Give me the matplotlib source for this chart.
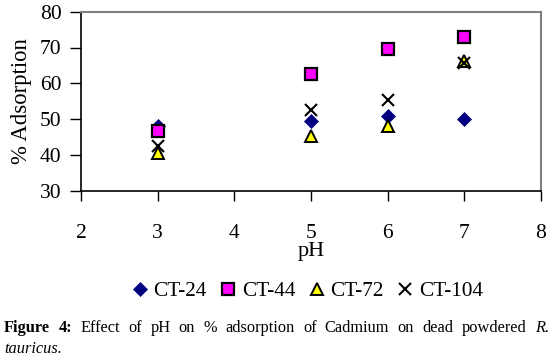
import matplotlib
matplotlib.use("Agg")
import matplotlib.pyplot as plt

ph = [3, 5, 6, 7]
ct24 = [48.0, 49.4, 51.0, 50.0]
ct44 = [46.6, 62.6, 69.6, 72.9]
ct72 = [40.5, 45.2, 48.0, 66.3]
ct104 = [42.4, 52.6, 55.4, 65.7]
series_names = ["CT-24", "CT-44", "CT-72", "CT-104"]
x_ticks = [2, 3, 4, 5, 6, 7, 8]
y_ticks = [30, 40, 50, 60, 70, 80]

plt.rcParams['font.family'] = ['Liberation Serif', 'DejaVu Serif']
W, H = 554, 363
fig = plt.figure(figsize=(W / 100, H / 100), dpi=100)
ax = fig.add_axes([81 / W, 1 - 190.7 / H, (541 - 81) / W, (190.7 - 11.7) / H])

styles = [
    dict(marker='D', color='#000080', markersize=7.5, markeredgecolor='#000080', markeredgewidth=0.5),
    dict(marker='s', color='#FF00FF', markersize=8.5, markeredgecolor='black', markeredgewidth=1.6),
    dict(marker='^', color='#FFFF00', markersize=9, markeredgecolor='black', markeredgewidth=1.4),
    dict(marker='x', color='black', markersize=9, markeredgewidth=1.5),
]
data = [ct24, ct44, ct72, ct104]
handles = []
for name, vals, st in zip(series_names, data, styles):
    h, = ax.plot(ph, vals, linestyle='none', label=name, **st)
    handles.append(h)

ax.set_xlim(2, 8)
ax.set_ylim(30, 80)
ax.set_xticks(x_ticks)
ax.set_yticks(y_ticks)
ax.tick_params(axis='x', direction='out', length=7, width=1, pad=17, labelsize=15.5)
ax.tick_params(axis='y', direction='out', length=8, width=1, pad=6, labelsize=15.5)
for s in ['top', 'right']:
    ax.spines[s].set_color('#808080')
    ax.spines[s].set_linewidth(1.5)
for s in ['left', 'bottom']:
    ax.spines[s].set_color('black')
    ax.spines[s].set_linewidth(1.2)
ax.set_xlabel('pH', fontsize=16, labelpad=-1)
ax.set_ylabel('% Adsorption', fontsize=16.4, labelpad=5.5)

fig.legend(handles=handles, labels=series_names, loc='center', bbox_to_anchor=(307 / W, 1 - 291 / H),
           ncol=4, frameon=False, fontsize=15.3, handlelength=0.8, handletextpad=0.25,
           columnspacing=0.6, borderaxespad=0)

# Caption, justified first line
renderer = fig.canvas.get_renderer()
fs = 11.8
words = [("Figure", 'bold', 'normal'), ("4:", 'bold', 'normal'), ("Effect", 'normal', 'normal'),
         ("of", 'normal', 'normal'), ("pH", 'normal', 'normal'), ("on", 'normal', 'normal'),
         ("%", 'normal', 'normal'), ("adsorption", 'normal', 'normal'), ("of", 'normal', 'normal'),
         ("Cadmium", 'normal', 'normal'), ("on", 'normal', 'normal'), ("dead", 'normal', 'normal'),
         ("powdered", 'normal', 'normal'), ("R.", 'normal', 'italic')]
texts = []
for w, wt, st in words:
    t = fig.text(0, 1 - 332 / H, w, fontsize=fs, fontweight=wt, fontstyle=st, va='baseline', ha='left')
    texts.append(t)
widths = [t.get_window_extent(renderer).width for t in texts]
x0, x1 = 4, 549
gap = (x1 - x0 - sum(widths)) / (len(words) - 1)
x = x0
for t, w in zip(texts, widths):
    t.set_x(x / W)
    x += w + gap
fig.text(4 / W, 1 - 353 / H, "tauricus.", fontsize=fs, fontstyle='italic', va='baseline', ha='left')

fig.savefig('out.png', dpi=100)
